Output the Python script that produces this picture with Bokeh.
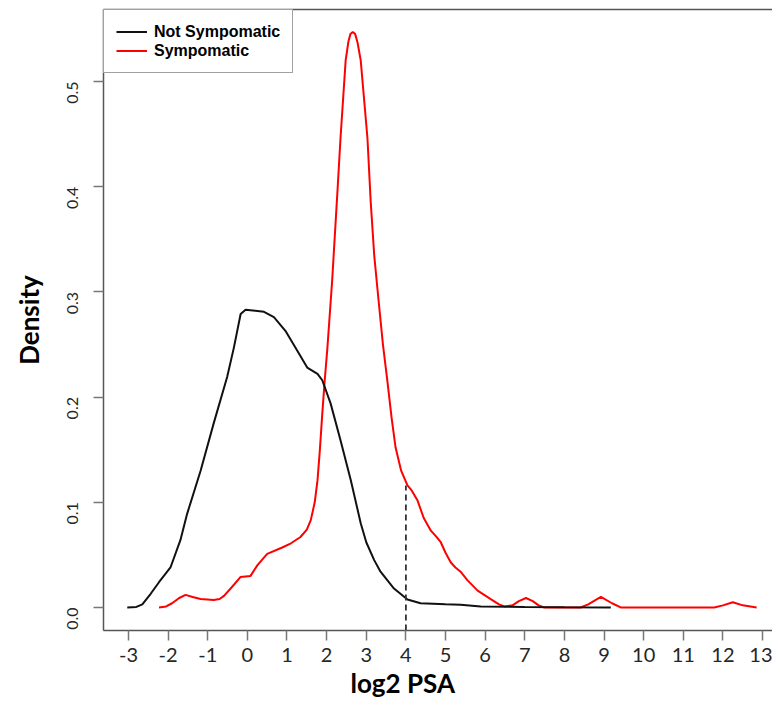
import math
from bokeh.plotting import figure
from bokeh.models import Range1d, LinearAxis, FixedTicker, Legend, LegendItem, NumeralTickFormatter, Title
from bokeh.embed import file_html
from bokeh.resources import INLINE

# ---- data ----
not_symp_x = [-3.03, -2.8, -2.65, -2.44, -2.23, -1.94, -1.69, -1.52, -1.18, -0.85, -0.51,
              -0.34, -0.17, -0.045, 0.20, 0.42, 0.67, 0.96, 1.26, 1.51, 1.77, 1.89, 2.10,
              2.35, 2.61, 2.86, 3.00, 3.20, 3.36, 3.70, 4.04, 4.37, 5.00, 5.38, 5.89, 7.0,
              8.0, 9.17]
not_symp_y = [0.0, 0.0005, 0.003, 0.013, 0.024, 0.038, 0.064, 0.089, 0.130, 0.175, 0.219,
              0.247, 0.279, 0.283, 0.282, 0.281, 0.276, 0.263, 0.244, 0.228, 0.222, 0.216,
              0.194, 0.159, 0.121, 0.080, 0.062, 0.045, 0.034, 0.018, 0.0076, 0.004, 0.003,
              0.0026, 0.001, 0.0005, 0.0002, 0.0]

symp_x = [-2.23, -2.05, -1.90, -1.72, -1.56, -1.38, -1.18, -0.85, -0.70, -0.59, -0.40,
          -0.17, 0.08, 0.25, 0.50, 0.88, 1.10, 1.34, 1.50, 1.60, 1.70, 1.77, 1.83, 1.89,
          1.95, 2.02, 2.14, 2.28, 2.35, 2.48, 2.55, 2.60, 2.66, 2.72, 2.78, 2.86, 3.03,
          3.11, 3.20, 3.31, 3.42, 3.53, 3.64, 3.74, 3.88, 4.04, 4.15, 4.29, 4.45, 4.63,
          4.75, 4.88, 5.00, 5.13, 5.25, 5.38, 5.55, 5.81, 6.14, 6.35, 6.48, 6.69, 6.85,
          7.03, 7.20, 7.35, 7.49, 8.41, 8.60, 8.92, 9.20, 9.42, 11.78, 12.0, 12.25, 12.5,
          12.85]
symp_y = [0.0, 0.001, 0.004, 0.009, 0.012, 0.010, 0.008, 0.007, 0.008, 0.011, 0.019,
          0.029, 0.030, 0.040, 0.051, 0.057, 0.061, 0.067, 0.074, 0.083, 0.100, 0.121,
          0.150, 0.184, 0.215, 0.247, 0.311, 0.400, 0.446, 0.520, 0.538, 0.545, 0.547,
          0.545, 0.537, 0.520, 0.446, 0.387, 0.335, 0.292, 0.250, 0.216, 0.180, 0.152,
          0.130, 0.116, 0.111, 0.102, 0.085, 0.073, 0.068, 0.062, 0.052, 0.043, 0.038,
          0.034, 0.026, 0.016, 0.008, 0.003, 0.001, 0.002, 0.006, 0.009, 0.006, 0.002,
          0.0, 0.0, 0.003, 0.010, 0.004, 0.0, 0.0, 0.002, 0.005, 0.002, 0.0]

cutoff_x = [4.0]
cutoff_top = [0.116]

x_ticks = list(range(-3, 14))
x_tick_labels = {t: str(t) for t in x_ticks}
y_ticks = [0.0, 0.1, 0.2, 0.3, 0.4, 0.5]

X_MIN, X_MAX = -3.63, 13.25
Y_MIN, Y_MAX = -0.0219, 0.5684

p = figure(width=772, height=700, output_backend="svg", toolbar_location=None,
           x_range=Range1d(X_MIN, X_MAX), y_range=Range1d(Y_MIN, Y_MAX),
           min_border_left=103, min_border_top=9, min_border_right=0, min_border_bottom=70,
           y_axis_label="Density")
p.grid.visible = False
p.outline_line_color = None

AX = "#555555"
for ax in (p.xaxis[0], p.yaxis[0]):
    ax.axis_line_color = AX
    ax.axis_line_width = 1.5
    ax.major_tick_line_color = "#777777"
    ax.major_tick_line_width = 1.5
    ax.major_tick_in = 0
    ax.major_tick_out = 10
    ax.minor_tick_line_color = None
    ax.major_label_text_font = "Lato"
    ax.major_label_text_color = "#262626"
    ax.axis_label_text_font = "Lato"
    ax.axis_label_text_font_style = "bold"
    ax.axis_label_text_font_size = "26px"
    ax.axis_label_text_color = "black"

p.xaxis.ticker = FixedTicker(ticks=x_ticks)
p.xaxis.major_label_overrides = x_tick_labels
p.xaxis.major_label_text_font_size = "20px"
p.xaxis.major_label_standoff = 7

p.yaxis.ticker = FixedTicker(ticks=y_ticks)
p.yaxis.formatter = NumeralTickFormatter(format="0.0")
p.yaxis.major_label_text_font_size = "16px"
p.yaxis.major_label_orientation = math.pi / 2
p.yaxis.major_label_standoff = 21
p.yaxis.axis_label_standoff = 14

top = LinearAxis(ticker=FixedTicker(ticks=[]), axis_line_color=AX, axis_line_width=1.5,
                 major_tick_line_color=None, minor_tick_line_color=None,
                 major_tick_in=0, major_tick_out=0, major_label_standoff=0,
                 major_label_text_font_size="0px")
p.add_layout(top, "above")

# x-axis title as a "below" title, placed left of centre like the reference
xtitle = Title(text="log2 PSA", align="left", offset=247, standoff=0,
               text_font="Lato", text_font_style="bold", text_font_size="26px",
               text_color="black")
p.add_layout(xtitle, "below")

r_s = p.line(symp_x, symp_y, line_color="#ff0000", line_width=2)
r_ns = p.line(not_symp_x, not_symp_y, line_color="#111111", line_width=2)
p.segment(x0=cutoff_x, y0=[Y_MIN], x1=cutoff_x, y1=cutoff_top,
          line_color="#333333", line_width=1.8, line_dash="6 4")

legend = Legend(items=[LegendItem(label="Not Sympomatic", renderers=[r_ns]),
                       LegendItem(label="Sympomatic", renderers=[r_s])],
                location="top_left", margin=0, padding=12, spacing=0,
                glyph_width=31, glyph_height=19, label_height=19, label_standoff=7,
                label_text_font="Liberation Sans", label_text_font_style="bold",
                label_text_font_size="16px", label_text_color="black",
                border_line_color="#444444", border_line_width=1.5,
                background_fill_color="white", background_fill_alpha=1)
p.add_layout(legend)

open("out.html", "w").write(file_html(p, INLINE))
